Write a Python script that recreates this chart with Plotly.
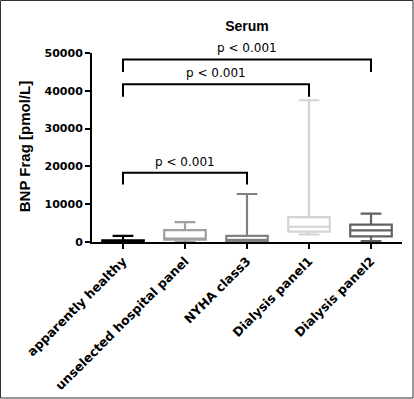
import plotly.graph_objects as go

# ---- data ----
categories = ["apparently healthy", "unselected hospital panel", "NYHA class3",
              "Dialysis panel1", "Dialysis panel2"]
q1_vals = [0, 650, 300, 2720, 1500]
median_vals = [250, 800, 550, 4040, 3090]
q3_vals = [420, 3150, 1600, 6600, 4620]
min_vals = [0, 0, 0, 1980, 260]
max_vals = [1600, 5250, 12700, 37500, 7530]
box_colors = ["#000000", "#a0a0a0", "#808080", "#d4d4d4", "#626262"]

bracket_pairs = [(0, 2), (0, 3), (0, 4)]
bracket_top = [18300, 41700, 48300]
bracket_leg = [15200, 38400, 45000]
bracket_labels = ["p < 0.001", "p < 0.001", "p < 0.001"]

y_ticks = [0, 10000, 20000, 30000, 40000, 50000]
y_tick_labels = ["0", "10000", "20000", "30000", "40000", "50000"]

W, H = 414, 399
ML, MR, MT, MB = 92, 12, 53, 157

fig = go.Figure()

for i, cat in enumerate(categories):
    fig.add_trace(go.Box(
        x=[cat], q1=[q1_vals[i]], median=[median_vals[i]], q3=[q3_vals[i]],
        lowerfence=[min_vals[i]], upperfence=[max_vals[i]],
        fillcolor="white", line=dict(color=box_colors[i], width=2.2),
        width=0.67, whiskerwidth=0.5, boxpoints=False,
        showlegend=False, hoverinfo="skip",
    ))

annotations = []
for (a, b), top, leg, lab in zip(bracket_pairs, bracket_top, bracket_leg, bracket_labels):
    fig.add_trace(go.Scatter(
        x=[categories[a], categories[a], categories[b], categories[b]],
        y=[leg, top, top, leg], mode="lines",
        line=dict(color="black", width=2), showlegend=False, hoverinfo="skip",
    ))
    annotations.append(dict(
        x=(a + b) / 2, y=top, xref="x", yref="y", text=lab, showarrow=False,
        yanchor="bottom", yshift=2,
        font=dict(family="DejaVu Sans", size=12, color="black"),
    ))

pw = W - ML - MR
ph = H - MT - MB

# y axis title
annotations.append(dict(
    x=(24.5 - ML) / pw, y=0.504, xref="paper", yref="paper",
    text="BNP Frag [pmol/L]", textangle=-90, showarrow=False,
    xanchor="center", yanchor="middle",
    font=dict(family="Liberation Sans", size=15, color="black", weight="bold"),
))

fig.update_layout(
    width=W, height=H,
    margin=dict(l=ML, r=MR, t=MT, b=MB, autoexpand=False),
    paper_bgcolor="white", plot_bgcolor="white",
    title=dict(text="<b>Serum</b>", x=0.5, xref="paper", xanchor="center",
               y=1 - 26 / H, yanchor="middle",
               font=dict(family="Liberation Sans", size=14, color="black")),
    xaxis=dict(type="category", range=[-0.5, 4.5], showline=True, linewidth=2,
               linecolor="black", ticks="outside", ticklen=5, tickwidth=2,
               tickcolor="black", tickangle=-45, showgrid=False, automargin=False,
               tickfont=dict(family="DejaVu Sans", size=12.5, color="black",
                             weight="bold")),
    yaxis=dict(range=[0, 50000], tickvals=y_ticks, ticktext=y_tick_labels,
               showline=True, linewidth=2, automargin=False,
               linecolor="black", ticks="outside", ticklen=5, tickwidth=2,
               tickcolor="black", showgrid=False, zeroline=False,
               tickfont=dict(family="DejaVu Sans", size=11, color="black",
                             weight="bold")),
    annotations=annotations,
    shapes=[dict(type="rect", xref="paper", yref="paper",
                 x0=(0.5 - ML) / pw, x1=(413 - ML) / pw,
                 y0=(H - MB - 398) / ph, y1=(H - MB - 0.5) / ph,
                 line=dict(color="#333333", width=1))],
)

fig.write_html("out.html", config={"displayModeBar": False},
               post_script="document.body.style.margin='0';")
